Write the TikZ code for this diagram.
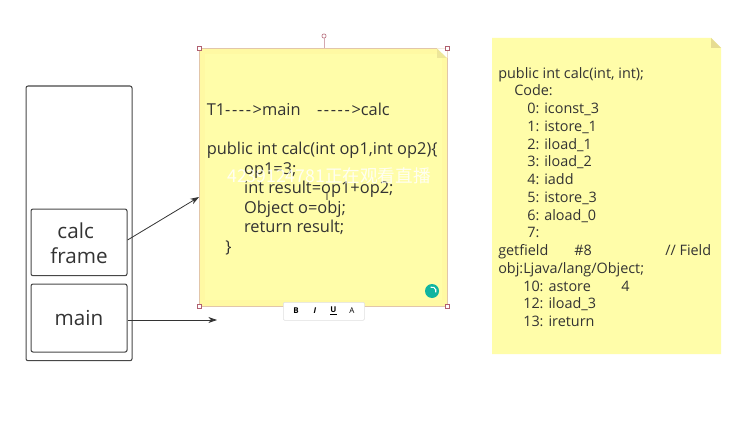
\documentclass[tikz,border=0pt]{standalone}
\usepackage{fontspec}
\setmainfont{Open Sans}
\newfontfamily\cjk{Noto Sans CJK SC}
\usetikzlibrary{arrows.meta}
\definecolor{notey}{HTML}{FFFDA9}
\definecolor{noteedge}{HTML}{FFF9A3}
\definecolor{foldc}{HTML}{E6DC92}
\definecolor{ink}{HTML}{333333}
\definecolor{handle}{HTML}{B06070}
\definecolor{spinc}{HTML}{10B5A0}
\newcommand{\dsh}{{-}\kern1.2pt}
\tikzset{
  x=0.75pt,y=-0.75pt,
  frame/.style={draw=ink!90,line width=0.8pt,rounded corners=1.5pt,minimum width=72pt,inner sep=0pt,anchor=north west,text=ink},
  framelabel/.style={font=\fontsize{15.5}{19}\selectfont,align=center,text=ink},
  arrowline/.style={draw=ink,line width=0.6pt,-{Stealth[length=6.5pt,width=4.5pt]}},
  notetext/.style={anchor=north west,inner sep=0pt,text=ink,align=left},
  hbox/.style={draw=handle,fill=white,line width=0.4pt,minimum size=3.2pt,inner sep=0pt},
  tb/.style={font=\fontsize{6}{7}\selectfont\bfseries,text=black,inner sep=0pt},
}
\begin{document}
\begin{tikzpicture}
\useasboundingbox (0,0) rectangle (742,431);
\fill[white] (0,0) rectangle (742,431);
% stack
\node[frame,minimum height=206pt,minimum width=79.5pt] (stack) at (25.5,85.5) {};
\node[frame,minimum height=50pt] (calc) at (30.5,208.5) {};
\node[frame,minimum height=51pt] (main) at (30.5,283.5) {};
\node[framelabel] (calclabel) at (79,243.5) {calc\hspace*{5pt}\\frame};
\node[framelabel] (mainlabel) at (79,318.5) {main};
% left note
\node[anchor=north west,fill=noteedge,minimum width=186pt,minimum height=193.5pt,inner sep=0pt,draw=brown!45,line width=0.3pt] (note1) at (199,48) {};
\fill[notey] (205,54) rectangle (442,300);
\fill[foldc!70!notey] (437,48) -- (447,58) -- (437,58) -- cycle;
\fill[white] (437,48.3) -- (447.3,58) -- (447.3,48.3) -- cycle;
\node[notetext,font=\fontsize{12.3}{14.65}\selectfont] (code1) at (206.5,103) {%
T1\dsh\dsh\dsh\dsh>main\hspace*{1em}\dsh\dsh\dsh\dsh\dsh>calc\\[14.65pt]
public int calc(int op1,int op2)\{\\
\hspace*{28pt}op1=3;\\
\hspace*{28pt}int result=op1+op2;\\
\hspace*{28pt}Object o=obj;\\
\hspace*{28pt}return result;\\
\hspace*{14pt}\}};
% watermark
\node[font=\fontsize{13.2}{15}\selectfont\cjk,text=white,opacity=0.85,inner sep=0pt] (mark) at (329,175.5) {4239124781正在观看直播};
% cursor
\node[font=\fontsize{8}{8}\selectfont,text=ink,inner sep=0pt] (cursor) at (327,197) {I};
% spinner
\node[circle,fill=spinc,minimum size=10.5pt,inner sep=0pt] (spin) at (432,291) {};
\draw[white,line width=0.8pt] ([shift={(-110:4)}]spin.center) arc[start angle=-110,end angle=20,radius=4];
% arrows
\coordinate (mainend) at (217,320);
\coordinate (calcend) at (199,197);
\draw[arrowline] (calc.east |- 0,240) -- (calcend);
\draw[arrowline] (main.east |- 0,320) -- (mainend);
% handles
\node[hbox] (h1) at (199,48) {};
\node[hbox] (h2) at (447,48) {};
\node[hbox] (h3) at (199,306) {};
\node[hbox] (h4) at (447,306) {};
\node[circle,hbox] (rot) at (324,36) {};
\draw[handle!55,line width=0.5pt] (rot) -- (324,48);
% toolbar
\node[anchor=north west,draw=black!12,fill=white,rounded corners=1pt,minimum width=61pt,minimum height=13.5pt,inner sep=0pt,line width=0.4pt] (bar) at (283,302) {};
\node[tb] (b) at (296,311) {B};
\node[tb,font=\fontsize{6}{7}\selectfont\bfseries\itshape] (i) at (315,311) {I};
\node[tb] (u) at (333.5,311) {\underline{U}};
\node[tb,font=\fontsize{6}{7}\selectfont] (a) at (352,311) {A};
% right note
\fill[notey] (492,38) -- (711,38) -- (721,48) -- (721,354) -- (492,354) -- cycle;
\fill[foldc] (711,38) -- (721,48) -- (711,48) -- cycle;
\node[notetext,font=\fontsize{10.8}{13.3}\selectfont] (code2) at (498,67) {%
public int calc(int, int);\\
\hspace*{12pt}Code:\\
\hspace*{21.75pt}0: iconst\_3\\
\hspace*{21.75pt}1: istore\_1\\
\hspace*{21.75pt}2: iload\_1\\
\hspace*{21.75pt}3: iload\_2\\
\hspace*{21.75pt}4: iadd\\
\hspace*{21.75pt}5: istore\_3\\
\hspace*{21.75pt}6: aload\_0\\
\hspace*{21.75pt}7:\\
\makebox[57pt][l]{getfield}\makebox[68.25pt][l]{\#8}// Field\\
obj:Ljava/lang/Object;\\
\hspace*{18.75pt}\makebox[73.5pt][l]{10: astore}4\\
\hspace*{18.75pt}12: iload\_3\\
\hspace*{18.75pt}13: ireturn};
\end{tikzpicture}
\end{document}
